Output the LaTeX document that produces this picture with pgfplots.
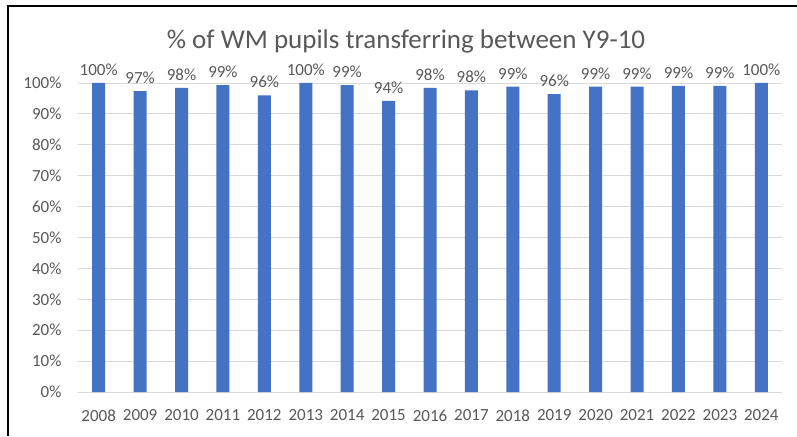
\documentclass[border=0pt]{standalone}
\usepackage{pgfplots}
\pgfplotsset{compat=1.18}
\usepackage{fontspec}
\setmainfont{Carlito}
\definecolor{barblue}{HTML}{4472C4}
\definecolor{txt}{HTML}{595959}
\definecolor{gridc}{HTML}{D9D9D9}

\begin{document}
\begin{tikzpicture}[x=1pt,y=1pt]
\path[use as bounding box, fill=white] (-78,-44) rectangle (719,392);
\begin{axis}[at={(0,0)}, anchor=south west,
  scale only axis, width=704pt, height=309pt,
  ymin=0, ymax=100, xmin=-0.5, xmax=16.5,
  ytick={0,10,...,100},
  yticklabel={\pgfmathprintnumber{\tick}\%},
  /pgf/number format/assume math mode=true,
  ymajorgrids, grid style={gridc, line width=0.9pt},
  axis x line*=bottom, axis y line*=left,
  x axis line style={gridc, line width=0.9pt, -},
  y axis line style={draw=none},
  major tick length=0,
  xtick=data,
  xticklabels={2008,2009,2010,2011,2012,2013,2014,2015,2016,2017,2018,2019,2020,2021,2022,2023,2024},
  ticklabel style={font=\fontsize{17}{20}\selectfont, text=txt},
  yticklabel style={xshift=-13pt},
  xticklabel style={yshift=-14pt},
  ybar, bar width=13pt,
  clip=false,
  point meta=y,
  nodes near coords={\pgfmathprintnumber[fixed,precision=0,assume math mode=true]{\pgfplotspointmeta}\%},
  every node near coord/.append style={font=\fontsize{17}{20}\selectfont, text=txt, yshift=4pt},
]
\addplot[fill=barblue, draw=none] coordinates {
  (0,100) (1,97.4) (2,98.4) (3,99.3) (4,96.0) (5,100) (6,99.3) (7,94.2)
  (8,98.4) (9,97.6) (10,98.8) (11,96.4) (12,98.8) (13,98.8) (14,99.1)
  (15,99.1) (16,100)
};
\end{axis}
\node[font=\fontsize{27}{32}\selectfont, text=txt] at (328,351) {\% of WM pupils transferring between Y9-10};
\draw[line width=2pt] (-70,-44) -- (-70,386) -- (719,386);
\end{tikzpicture}
\end{document}
